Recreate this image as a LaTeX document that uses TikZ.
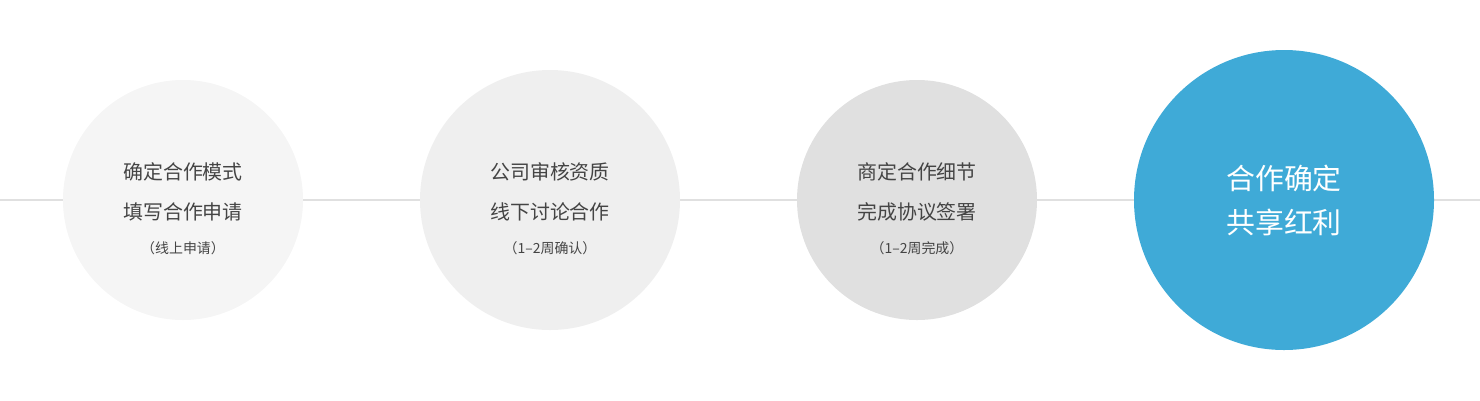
\documentclass[tikz,border=0pt]{standalone}
\usepackage{fontspec}
\newfontfamily\cjk{Noto Sans CJK SC}
\definecolor{c1}{HTML}{F5F5F5}
\definecolor{c2}{HTML}{EFEFEF}
\definecolor{c3}{HTML}{E0E0E0}
\definecolor{c4}{HTML}{3FAAD7}
\definecolor{tx}{HTML}{444444}
\begin{document}
\begin{tikzpicture}[x=1bp,y=-1bp,
  main/.style={font=\cjk\fontsize{20}{24}\selectfont,text=tx},
  small/.style={font=\cjk\fontsize{14}{16}\selectfont,text=tx},
  big/.style={font=\cjk\fontsize{29}{34}\selectfont,text=white}]
\useasboundingbox (0,0) rectangle (1480,400);
\coordinate (L) at (0,200); \coordinate (R) at (1480,200);
\draw[c3,line width=1.5bp] (L) -- (R);
\fill[c1] (183,200) circle (120);
\fill[c2] (550,200) circle (130);
\fill[c3] (917,200) circle (120);
\fill[c4] (1284,200) circle (150);
\node[main] (a1) at (183,172) {确定合作模式};
\node[main] (a2) at (183,212) {填写合作申请};
\node[small] (a3) at (183,248) {（线上申请）};
\node[main] (b1) at (550,172) {公司审核资质};
\node[main] (b2) at (550,212) {线下讨论合作};
\node[small] (b3) at (550,248) {（1–2周确认）};
\node[main] (d1) at (917,172) {商定合作细节};
\node[main] (d2) at (917,212) {完成协议签署};
\node[small] (d3) at (917,248) {（1–2周完成）};
\node[big] (e1) at (1284,178) {合作确定};
\node[big] (e2) at (1284,222) {共享红利};
\end{tikzpicture}
\end{document}
